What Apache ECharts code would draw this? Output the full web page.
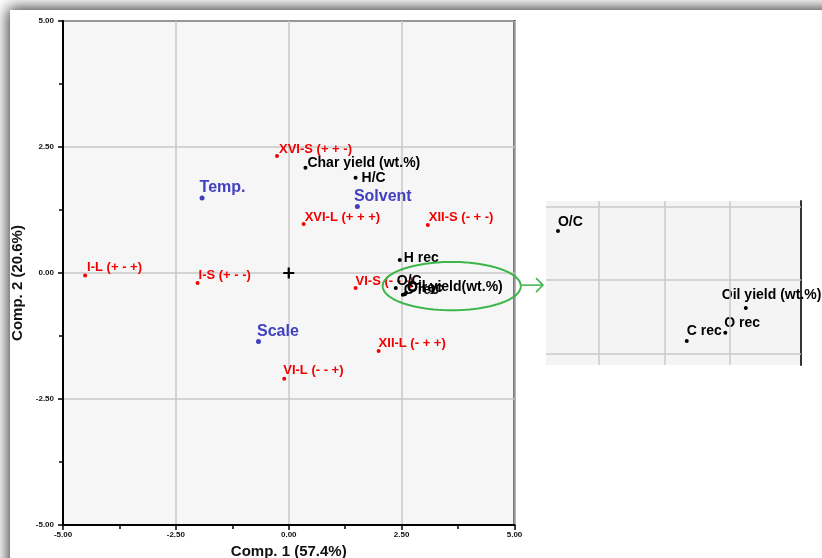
<!DOCTYPE html>
<html>
<head>
<meta charset="utf-8">
<script src="https://cdn.jsdelivr.net/npm/echarts@6/dist/echarts.min.js"></script>
<style>html,body{margin:0;padding:0;background:#fff}#c{width:822px;height:558px}</style>
</head>
<body>
<div id="c"></div>
<script>
// ---- data ----
const obsNames = ['I-L (+ - +)','I-S (+ - -)','XVI-S (+ + -)','XVI-L (+ + +)','XII-S (- + -)','VI-S (- - -)','XII-L (- + +)','VI-L (- - +)'];
const obsX = [-4.51,-2.02,-0.26,0.33,3.08,1.48,1.99,-0.10];
const obsY = [-0.05,-0.20,2.32,0.97,0.95,-0.30,-1.55,-2.10];
const factorNames = ['Temp.','Solvent','Scale'];
const factorX = [-1.92,1.52,-0.67];
const factorY = [1.49,1.32,-1.36];
const respNames = ['Char yield (wt.%)','H/C','H rec','O/C','C rec','O rec','Oil yield(wt.%)'];
const respX = [0.37,1.48,2.46,2.37,2.527,2.574,2.599];
const respY = [2.09,1.89,0.26,-0.30,-0.434,-0.424,-0.394];
const insetNames = ['O/C','C rec','O rec','Oil yield (wt.%)'];
const insetIdx = [3,4,5,6];
const originPt = [0,0];
const axisTicks = [-5,-2.5,0,2.5,5];
const insetGridX = [2.421,2.503,2.585];
const insetGridY = [-0.271,-0.362,-0.452];
const xTitle = 'Comp. 1 (57.4%)';
const yTitle = 'Comp. 2 (20.6%)';

// ---- style ----
const FONT = 'Liberation Sans, Arial, sans-serif';
const RED = '#f20000', BLUE = '#4040c0', GREEN = '#3cb54a';
const offsets = {
  'I-L (+ - +)':[0,-8],'I-S (+ - -)':[-1,-8],'XVI-S (+ + -)':[0,-7],'XVI-L (+ + +)':[-1,-7],
  'XII-S (- + -)':[-1,-8],'VI-S (- - -)':[-2,-7],'XII-L (- + +)':[-2,-8],'VI-L (- - +)':[-3,-8],
  'Temp.':[-5,-10],'Solvent':[-6,-10],'Scale':[-4,-10],
  'Char yield (wt.%)':[0,-5],'H/C':[4,0],'H rec':[2,-2],'O/C':[-1,-7],'C rec':[-1,-5],'O rec':[0,-6],'Oil yield(wt.%)':[-1,-6]
};
const insetOffsets = [[-2,-9],[-2,-10],[-3,-10],[-26,-13]];

function pts(names, xs, ys, offs){
  return names.map((n,i)=>({name:n, value:[xs[i],ys[i]], label:{offset:(offs||offsets)[n] || [-2,-8]}}));
}
const lbl = (color, size) => ({show:true, position:'right', distance:0, formatter:'{b}', color:color, opacity:1,
  fontFamily:FONT, fontSize:size, fontWeight:'bold', textBorderWidth:0, textShadowBlur:0});
const itm = (color) => ({color:color, opacity:1});

const chart = echarts.init(document.getElementById('c'), null, {renderer:'canvas'});
const mainAxisCommon = {
  min: axisTicks[0], max: axisTicks[axisTicks.length-1], interval: axisTicks[1]-axisTicks[0],
  axisLine:{show:true, onZero:false, lineStyle:{color:'#000', width:2}},
  axisTick:{show:true, length:5, lineStyle:{color:'#000', width:1.5}},
  minorTick:{show:true, splitNumber:2, length:4, lineStyle:{color:'#000', width:1.5}},
  splitLine:{show:true, lineStyle:{color:'#c8c8c8', width:1.5}},
  axisLabel:{formatter:v=>v.toFixed(2), fontFamily:FONT, fontSize:8, fontWeight:'bold', color:'#111'},
  nameLocation:'middle',
  nameTextStyle:{fontFamily:FONT, fontSize:15, fontWeight:'bold', color:'#111'}
};

const option = {
  backgroundColor:'#fff',
  animation:false,
  grid:[
    {left:63, top:21, right:307.5, bottom:33, containLabel:false, outerBoundsMode:'none',
      show:true, backgroundColor:'#f6f6f6', borderColor:'#000', borderWidth:2},
    {left:546, top:201, width:255, height:164, containLabel:false, outerBoundsMode:'none',
      show:true, backgroundColor:'#f4f4f4', borderWidth:0}
  ],
  xAxis:[
    Object.assign({}, mainAxisCommon, {gridIndex:0, type:'value', name:xTitle, nameGap:17,
      axisLabel:Object.assign({}, mainAxisCommon.axisLabel, {margin:6})}),
    {gridIndex:1, type:'value', min:2.3554, max:2.6663, show:false, splitLine:{show:false}}
  ],
  yAxis:[
    Object.assign({}, mainAxisCommon, {gridIndex:0, type:'value', name:yTitle, nameGap:37,
      nameTextStyle:Object.assign({}, mainAxisCommon.nameTextStyle, {padding:[0,20,0,0]}),
      axisLabel:Object.assign({}, mainAxisCommon.axisLabel, {margin:9})}),
    {gridIndex:1, type:'value', min:-0.4634, max:-0.2634, position:'right',
      axisLine:{show:true, lineStyle:{color:'#333', width:2}}, axisTick:{show:false}, axisLabel:{show:false}, splitLine:{show:false}}
  ],
  series:[
    {type:'scatter', xAxisIndex:0, yAxisIndex:0, symbolSize:4, itemStyle:itm(RED), z:3,
      data:pts(obsNames, obsX, obsY), label:lbl(RED, 13)},
    {type:'scatter', xAxisIndex:0, yAxisIndex:0, symbolSize:5, itemStyle:itm(BLUE), z:3,
      data:pts(factorNames, factorX, factorY), label:lbl(BLUE, 16)},
    {type:'scatter', xAxisIndex:0, yAxisIndex:0, symbolSize:4, itemStyle:itm('#000'), z:4,
      data:pts(respNames, respX, respY), label:lbl('#000', 14)},
    {type:'scatter', xAxisIndex:0, yAxisIndex:0, symbol:'path://M4,0L6,0L6,4L10,4L10,6L6,6L6,10L4,10L4,6L0,6L0,4L4,4Z', symbolSize:11,
      itemStyle:itm('#000'), data:[originPt], z:4},
    {type:'scatter', xAxisIndex:1, yAxisIndex:1, symbolSize:4, itemStyle:itm('#000'), z:4,
      data:insetIdx.map((k,i)=>({name:insetNames[i], value:[respX[k], respY[k]], label:{offset:insetOffsets[i]}})),
      label:lbl('#000', 14),
      markLine:{silent:true, symbol:'none', animation:false, label:{show:false},
        lineStyle:{color:'#cacaca', width:1.5, type:'solid', opacity:1},
        data:insetGridX.map(v=>({xAxis:v})).concat(insetGridY.map(v=>({yAxis:v})))}}
  ]
};
chart.setOption(option);

// ---- annotations: frame shadow, ellipse and arrow ----
const c0 = chart.convertToPixel({gridIndex:0}, [3.61,-0.26]);
const cx1 = chart.convertToPixel({gridIndex:0}, [3.61+1.53, -0.26+0.48]);
const rx = cx1[0]-c0[0], ry = c0[1]-cx1[1];
const ell = [];
for (let i=0;i<=96;i++){const a=i/96*Math.PI*2; ell.push([c0[0]+rx*Math.cos(a), c0[1]+ry*Math.sin(a)]);}
const ax0 = c0[0]+rx, ay = c0[1]-1, ax1 = 543;
chart.setOption({graphic:[
  {type:'rect', z:-100, silent:true, shape:{x:10,y:10,width:900,height:700},
    style:{fill:'#fff', shadowBlur:14, shadowColor:'rgba(0,0,0,0.8)', shadowOffsetX:-2, shadowOffsetY:-2}},
  {type:'polyline', z:100, silent:true, shape:{points:ell}, style:{stroke:GREEN, lineWidth:2, fill:null}},
  {type:'line', z:100, silent:true, shape:{x1:ax0+1, y1:ay, x2:ax1, y2:ay}, style:{stroke:GREEN, lineWidth:1.5}},
  {type:'polyline', z:100, silent:true, shape:{points:[[ax1-7,ay-7],[ax1,ay],[ax1-7,ay+7]]}, style:{stroke:GREEN, lineWidth:1.5, fill:null}}
]});
</script>
</body>
</html>
